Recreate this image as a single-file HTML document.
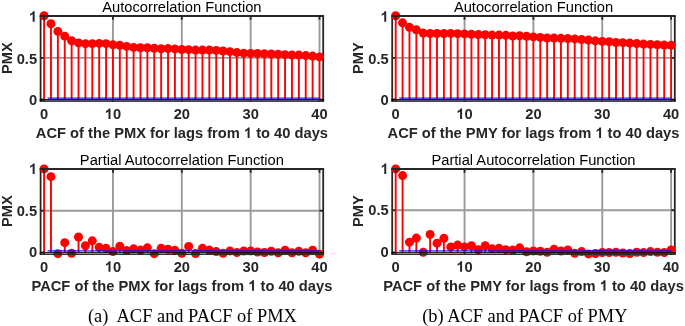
<!DOCTYPE html>
<html><head><meta charset="utf-8"><style>
html,body{margin:0;padding:0;background:#fff;}
body{width:685px;height:326px;overflow:hidden;position:relative;}
svg{position:absolute;left:0;top:0;will-change:transform;}
.b{font-family:"Liberation Sans",sans-serif;font-weight:bold;font-size:14.7px;fill:#262626;}
.r{font-family:"Liberation Sans",sans-serif;font-size:14.7px;fill:#000;}
.h{fill-opacity:0;}
.cap{font-family:"Liberation Serif",serif;font-size:18.4px;fill:#000;}
</style></head><body>
<svg width="685" height="326" viewBox="0 0 685 326">
<line x1="112.95" y1="15.9" x2="112.95" y2="44.77" stroke="#9a9a9a" stroke-width="1.9"/>
<line x1="181.8" y1="15.9" x2="181.8" y2="49.51" stroke="#9a9a9a" stroke-width="1.9"/>
<line x1="250.65" y1="15.9" x2="250.65" y2="53.41" stroke="#9a9a9a" stroke-width="1.9"/>
<line x1="319.5" y1="15.9" x2="319.5" y2="56.88" stroke="#9a9a9a" stroke-width="1.9"/>
<line x1="40.6" y1="57.9" x2="323.2" y2="57.9" stroke="#9a9a9a" stroke-width="1.9"/>
<line x1="40.6" y1="15.9" x2="40.6" y2="101.5" stroke="#262626" stroke-width="1.8"/>
<line x1="323.2" y1="15.9" x2="323.2" y2="101.5" stroke="#262626" stroke-width="1.8"/>
<line x1="40.6" y1="99.5" x2="44.3" y2="99.5" stroke="#262626" stroke-width="1.8"/>
<line x1="323.2" y1="99.5" x2="319.5" y2="99.5" stroke="#262626" stroke-width="1.8"/>
<line x1="40.6" y1="57.9" x2="44.3" y2="57.9" stroke="#262626" stroke-width="1.8"/>
<line x1="323.2" y1="57.9" x2="319.5" y2="57.9" stroke="#262626" stroke-width="1.8"/>
<line x1="40.6" y1="15.9" x2="44.3" y2="15.9" stroke="#262626" stroke-width="1.8"/>
<line x1="323.2" y1="15.9" x2="319.5" y2="15.9" stroke="#262626" stroke-width="1.8"/>
<line x1="44.1" y1="99.5" x2="44.1" y2="15.8" stroke="#ff0000" stroke-width="1.9"/>
<line x1="50.98" y1="99.5" x2="50.98" y2="23.76" stroke="#ff0000" stroke-width="1.9"/>
<line x1="57.87" y1="99.5" x2="57.87" y2="31.38" stroke="#ff0000" stroke-width="1.9"/>
<line x1="64.75" y1="99.5" x2="64.75" y2="36.13" stroke="#ff0000" stroke-width="1.9"/>
<line x1="71.64" y1="99.5" x2="71.64" y2="40.79" stroke="#ff0000" stroke-width="1.9"/>
<line x1="78.53" y1="99.5" x2="78.53" y2="42.9" stroke="#ff0000" stroke-width="1.9"/>
<line x1="85.41" y1="99.5" x2="85.41" y2="43.67" stroke="#ff0000" stroke-width="1.9"/>
<line x1="92.3" y1="99.5" x2="92.3" y2="43.67" stroke="#ff0000" stroke-width="1.9"/>
<line x1="99.18" y1="99.5" x2="99.18" y2="43.41" stroke="#ff0000" stroke-width="1.9"/>
<line x1="106.06" y1="99.5" x2="106.06" y2="43.67" stroke="#ff0000" stroke-width="1.9"/>
<line x1="112.95" y1="99.5" x2="112.95" y2="44.77" stroke="#ff0000" stroke-width="1.9"/>
<line x1="119.84" y1="99.5" x2="119.84" y2="45.36" stroke="#ff0000" stroke-width="1.9"/>
<line x1="126.72" y1="99.5" x2="126.72" y2="46.38" stroke="#ff0000" stroke-width="1.9"/>
<line x1="133.6" y1="99.5" x2="133.6" y2="47.39" stroke="#ff0000" stroke-width="1.9"/>
<line x1="140.49" y1="99.5" x2="140.49" y2="47.73" stroke="#ff0000" stroke-width="1.9"/>
<line x1="147.38" y1="99.5" x2="147.38" y2="47.73" stroke="#ff0000" stroke-width="1.9"/>
<line x1="154.26" y1="99.5" x2="154.26" y2="48.32" stroke="#ff0000" stroke-width="1.9"/>
<line x1="161.15" y1="99.5" x2="161.15" y2="48.75" stroke="#ff0000" stroke-width="1.9"/>
<line x1="168.03" y1="99.5" x2="168.03" y2="48.58" stroke="#ff0000" stroke-width="1.9"/>
<line x1="174.91" y1="99.5" x2="174.91" y2="48.92" stroke="#ff0000" stroke-width="1.9"/>
<line x1="181.8" y1="99.5" x2="181.8" y2="49.51" stroke="#ff0000" stroke-width="1.9"/>
<line x1="188.69" y1="99.5" x2="188.69" y2="49.68" stroke="#ff0000" stroke-width="1.9"/>
<line x1="195.57" y1="99.5" x2="195.57" y2="50.1" stroke="#ff0000" stroke-width="1.9"/>
<line x1="202.45" y1="99.5" x2="202.45" y2="50.1" stroke="#ff0000" stroke-width="1.9"/>
<line x1="209.34" y1="99.5" x2="209.34" y2="50.1" stroke="#ff0000" stroke-width="1.9"/>
<line x1="216.22" y1="99.5" x2="216.22" y2="50.44" stroke="#ff0000" stroke-width="1.9"/>
<line x1="223.11" y1="99.5" x2="223.11" y2="51.04" stroke="#ff0000" stroke-width="1.9"/>
<line x1="229.99" y1="99.5" x2="229.99" y2="51.63" stroke="#ff0000" stroke-width="1.9"/>
<line x1="236.88" y1="99.5" x2="236.88" y2="52.56" stroke="#ff0000" stroke-width="1.9"/>
<line x1="243.76" y1="99.5" x2="243.76" y2="53.15" stroke="#ff0000" stroke-width="1.9"/>
<line x1="250.65" y1="99.5" x2="250.65" y2="53.41" stroke="#ff0000" stroke-width="1.9"/>
<line x1="257.54" y1="99.5" x2="257.54" y2="53.49" stroke="#ff0000" stroke-width="1.9"/>
<line x1="264.42" y1="99.5" x2="264.42" y2="53.83" stroke="#ff0000" stroke-width="1.9"/>
<line x1="271.31" y1="99.5" x2="271.31" y2="54" stroke="#ff0000" stroke-width="1.9"/>
<line x1="278.19" y1="99.5" x2="278.19" y2="54.34" stroke="#ff0000" stroke-width="1.9"/>
<line x1="285.07" y1="99.5" x2="285.07" y2="54.68" stroke="#ff0000" stroke-width="1.9"/>
<line x1="291.96" y1="99.5" x2="291.96" y2="55.02" stroke="#ff0000" stroke-width="1.9"/>
<line x1="298.85" y1="99.5" x2="298.85" y2="55.1" stroke="#ff0000" stroke-width="1.9"/>
<line x1="305.73" y1="99.5" x2="305.73" y2="55.61" stroke="#ff0000" stroke-width="1.9"/>
<line x1="312.62" y1="99.5" x2="312.62" y2="56.12" stroke="#ff0000" stroke-width="1.9"/>
<line x1="319.5" y1="99.5" x2="319.5" y2="56.88" stroke="#ff0000" stroke-width="1.9"/>
<circle cx="44.1" cy="15.8" r="4.5" fill="#ff0000"/>
<circle cx="50.98" cy="23.76" r="4.5" fill="#ff0000"/>
<circle cx="57.87" cy="31.38" r="4.5" fill="#ff0000"/>
<circle cx="64.75" cy="36.13" r="4.5" fill="#ff0000"/>
<circle cx="71.64" cy="40.79" r="4.5" fill="#ff0000"/>
<circle cx="78.53" cy="42.9" r="4.5" fill="#ff0000"/>
<circle cx="85.41" cy="43.67" r="4.5" fill="#ff0000"/>
<circle cx="92.3" cy="43.67" r="4.5" fill="#ff0000"/>
<circle cx="99.18" cy="43.41" r="4.5" fill="#ff0000"/>
<circle cx="106.06" cy="43.67" r="4.5" fill="#ff0000"/>
<circle cx="112.95" cy="44.77" r="4.5" fill="#ff0000"/>
<circle cx="119.84" cy="45.36" r="4.5" fill="#ff0000"/>
<circle cx="126.72" cy="46.38" r="4.5" fill="#ff0000"/>
<circle cx="133.6" cy="47.39" r="4.5" fill="#ff0000"/>
<circle cx="140.49" cy="47.73" r="4.5" fill="#ff0000"/>
<circle cx="147.38" cy="47.73" r="4.5" fill="#ff0000"/>
<circle cx="154.26" cy="48.32" r="4.5" fill="#ff0000"/>
<circle cx="161.15" cy="48.75" r="4.5" fill="#ff0000"/>
<circle cx="168.03" cy="48.58" r="4.5" fill="#ff0000"/>
<circle cx="174.91" cy="48.92" r="4.5" fill="#ff0000"/>
<circle cx="181.8" cy="49.51" r="4.5" fill="#ff0000"/>
<circle cx="188.69" cy="49.68" r="4.5" fill="#ff0000"/>
<circle cx="195.57" cy="50.1" r="4.5" fill="#ff0000"/>
<circle cx="202.45" cy="50.1" r="4.5" fill="#ff0000"/>
<circle cx="209.34" cy="50.1" r="4.5" fill="#ff0000"/>
<circle cx="216.22" cy="50.44" r="4.5" fill="#ff0000"/>
<circle cx="223.11" cy="51.04" r="4.5" fill="#ff0000"/>
<circle cx="229.99" cy="51.63" r="4.5" fill="#ff0000"/>
<circle cx="236.88" cy="52.56" r="4.5" fill="#ff0000"/>
<circle cx="243.76" cy="53.15" r="4.5" fill="#ff0000"/>
<circle cx="250.65" cy="53.41" r="4.5" fill="#ff0000"/>
<circle cx="257.54" cy="53.49" r="4.5" fill="#ff0000"/>
<circle cx="264.42" cy="53.83" r="4.5" fill="#ff0000"/>
<circle cx="271.31" cy="54" r="4.5" fill="#ff0000"/>
<circle cx="278.19" cy="54.34" r="4.5" fill="#ff0000"/>
<circle cx="285.07" cy="54.68" r="4.5" fill="#ff0000"/>
<circle cx="291.96" cy="55.02" r="4.5" fill="#ff0000"/>
<circle cx="298.85" cy="55.1" r="4.5" fill="#ff0000"/>
<circle cx="305.73" cy="55.61" r="4.5" fill="#ff0000"/>
<circle cx="312.62" cy="56.12" r="4.5" fill="#ff0000"/>
<circle cx="319.5" cy="56.88" r="4.5" fill="#ff0000"/>
<line x1="47.54" y1="98.2" x2="319.5" y2="98.2" stroke="#0000ff" stroke-opacity="0.9" stroke-width="1.3"/>
<line x1="39.7" y1="15.9" x2="324.1" y2="15.9" stroke="#262626" stroke-width="2.0"/>
<line x1="39.7" y1="99.5" x2="324.1" y2="99.5" stroke="#000" stroke-opacity="0.88" stroke-width="1"/>
<line x1="39.7" y1="100.5" x2="324.1" y2="100.5" stroke="#000" stroke-opacity="0.68" stroke-width="1"/>
<line x1="39.7" y1="101.5" x2="324.1" y2="101.5" stroke="#262626" stroke-opacity="0.85" stroke-width="1"/>
<line x1="44.1" y1="101.5" x2="44.1" y2="98.6" stroke="#262626" stroke-width="1.8"/>
<line x1="44.1" y1="15.9" x2="44.1" y2="19.7" stroke="#262626" stroke-width="1.8"/>
<line x1="112.95" y1="101.5" x2="112.95" y2="98.6" stroke="#262626" stroke-width="1.8"/>
<line x1="112.95" y1="15.9" x2="112.95" y2="19.7" stroke="#262626" stroke-width="1.8"/>
<line x1="181.8" y1="101.5" x2="181.8" y2="98.6" stroke="#262626" stroke-width="1.8"/>
<line x1="181.8" y1="15.9" x2="181.8" y2="19.7" stroke="#262626" stroke-width="1.8"/>
<line x1="250.65" y1="101.5" x2="250.65" y2="98.6" stroke="#262626" stroke-width="1.8"/>
<line x1="250.65" y1="15.9" x2="250.65" y2="19.7" stroke="#262626" stroke-width="1.8"/>
<line x1="319.5" y1="101.5" x2="319.5" y2="98.6" stroke="#262626" stroke-width="1.8"/>
<line x1="319.5" y1="15.9" x2="319.5" y2="19.7" stroke="#262626" stroke-width="1.8"/>
<text x="44.1" y="119" text-anchor="middle" class="b">0</text>
<text id="t2" x="112.95" y="119" text-anchor="middle" class="b"><tspan class="h">1</tspan>0</text>
<path d="M795 0L520 0L520 1050C430 965 320 900 170 850L170 1110C250 1137 330 1180 405 1240C480 1300 535 1370 565 1466L795 1466Z" transform="translate(104.78,119) scale(0.007178,-0.007178)" fill="#262626"/>
<text x="181.8" y="119" text-anchor="middle" class="b">20</text>
<text x="250.65" y="119" text-anchor="middle" class="b">30</text>
<text x="319.5" y="119" text-anchor="middle" class="b">40</text>
<text x="37.1" y="105.4" text-anchor="end" class="b">0</text>
<text x="37.1" y="63.8" text-anchor="end" class="b">0.5</text>
<text id="t8" x="37.1" y="21.8" text-anchor="end" class="b"><tspan class="h">1</tspan></text>
<path d="M795 0L520 0L520 1050C430 965 320 900 170 850L170 1110C250 1137 330 1180 405 1240C480 1300 535 1370 565 1466L795 1466Z" transform="translate(28.93,21.8) scale(0.007178,-0.007178)" fill="#262626"/>
<text x="181.9" y="11.8" text-anchor="middle" class="r">Autocorrelation Function</text>
<text id="t10" x="181.9" y="137.9" text-anchor="middle" class="b">ACF of the PMX for lags from <tspan class="h">1</tspan> to 40 days</text>
<path d="M795 0L520 0L520 1050C430 965 320 900 170 850L170 1110C250 1137 330 1180 405 1240C480 1300 535 1370 565 1466L795 1466Z" transform="translate(243.89,137.9) scale(0.007178,-0.007178)" fill="#262626"/>
<text transform="translate(11.5,58.15) rotate(-90)" text-anchor="middle" class="b">PMX</text>
<line x1="112.95" y1="169" x2="112.95" y2="251.61" stroke="#9a9a9a" stroke-width="1.9"/>
<line x1="181.8" y1="169" x2="181.8" y2="253.3" stroke="#9a9a9a" stroke-width="1.9"/>
<line x1="250.65" y1="169" x2="250.65" y2="250.94" stroke="#9a9a9a" stroke-width="1.9"/>
<line x1="319.5" y1="169" x2="319.5" y2="254.14" stroke="#9a9a9a" stroke-width="1.9"/>
<line x1="40.6" y1="210.7" x2="323.2" y2="210.7" stroke="#9a9a9a" stroke-width="1.9"/>
<line x1="40.6" y1="169" x2="40.6" y2="254.5" stroke="#262626" stroke-width="1.8"/>
<line x1="323.2" y1="169" x2="323.2" y2="254.5" stroke="#262626" stroke-width="1.8"/>
<line x1="40.6" y1="252.5" x2="44.3" y2="252.5" stroke="#262626" stroke-width="1.8"/>
<line x1="323.2" y1="252.5" x2="319.5" y2="252.5" stroke="#262626" stroke-width="1.8"/>
<line x1="40.6" y1="210.7" x2="44.3" y2="210.7" stroke="#262626" stroke-width="1.8"/>
<line x1="323.2" y1="210.7" x2="319.5" y2="210.7" stroke="#262626" stroke-width="1.8"/>
<line x1="40.6" y1="169" x2="44.3" y2="169" stroke="#262626" stroke-width="1.8"/>
<line x1="323.2" y1="169" x2="319.5" y2="169" stroke="#262626" stroke-width="1.8"/>
<line x1="44.1" y1="252.5" x2="44.1" y2="168.9" stroke="#ff0000" stroke-width="1.9"/>
<line x1="50.98" y1="252.5" x2="50.98" y2="176.66" stroke="#ff0000" stroke-width="1.9"/>
<line x1="57.87" y1="252.5" x2="57.87" y2="253.64" stroke="#ff0000" stroke-width="1.9"/>
<line x1="64.75" y1="252.5" x2="64.75" y2="242.67" stroke="#ff0000" stroke-width="1.9"/>
<line x1="71.64" y1="252.5" x2="71.64" y2="253.3" stroke="#ff0000" stroke-width="1.9"/>
<line x1="78.53" y1="252.5" x2="78.53" y2="237.01" stroke="#ff0000" stroke-width="1.9"/>
<line x1="85.41" y1="252.5" x2="85.41" y2="245.79" stroke="#ff0000" stroke-width="1.9"/>
<line x1="92.3" y1="252.5" x2="92.3" y2="240.81" stroke="#ff0000" stroke-width="1.9"/>
<line x1="99.18" y1="252.5" x2="99.18" y2="247.22" stroke="#ff0000" stroke-width="1.9"/>
<line x1="106.06" y1="252.5" x2="106.06" y2="248.32" stroke="#ff0000" stroke-width="1.9"/>
<line x1="112.95" y1="252.5" x2="112.95" y2="251.61" stroke="#ff0000" stroke-width="1.9"/>
<line x1="119.84" y1="252.5" x2="119.84" y2="246.29" stroke="#ff0000" stroke-width="1.9"/>
<line x1="126.72" y1="252.5" x2="126.72" y2="250.6" stroke="#ff0000" stroke-width="1.9"/>
<line x1="133.6" y1="252.5" x2="133.6" y2="248.83" stroke="#ff0000" stroke-width="1.9"/>
<line x1="140.49" y1="252.5" x2="140.49" y2="250.09" stroke="#ff0000" stroke-width="1.9"/>
<line x1="147.38" y1="252.5" x2="147.38" y2="247.81" stroke="#ff0000" stroke-width="1.9"/>
<line x1="154.26" y1="252.5" x2="154.26" y2="253.64" stroke="#ff0000" stroke-width="1.9"/>
<line x1="161.15" y1="252.5" x2="161.15" y2="248.32" stroke="#ff0000" stroke-width="1.9"/>
<line x1="168.03" y1="252.5" x2="168.03" y2="249.25" stroke="#ff0000" stroke-width="1.9"/>
<line x1="174.91" y1="252.5" x2="174.91" y2="250.35" stroke="#ff0000" stroke-width="1.9"/>
<line x1="181.8" y1="252.5" x2="181.8" y2="253.3" stroke="#ff0000" stroke-width="1.9"/>
<line x1="188.69" y1="252.5" x2="188.69" y2="246.55" stroke="#ff0000" stroke-width="1.9"/>
<line x1="195.57" y1="252.5" x2="195.57" y2="253.55" stroke="#ff0000" stroke-width="1.9"/>
<line x1="202.45" y1="252.5" x2="202.45" y2="248.32" stroke="#ff0000" stroke-width="1.9"/>
<line x1="209.34" y1="252.5" x2="209.34" y2="250.09" stroke="#ff0000" stroke-width="1.9"/>
<line x1="216.22" y1="252.5" x2="216.22" y2="251.61" stroke="#ff0000" stroke-width="1.9"/>
<line x1="223.11" y1="252.5" x2="223.11" y2="253.3" stroke="#ff0000" stroke-width="1.9"/>
<line x1="229.99" y1="252.5" x2="229.99" y2="250.94" stroke="#ff0000" stroke-width="1.9"/>
<line x1="236.88" y1="252.5" x2="236.88" y2="252.46" stroke="#ff0000" stroke-width="1.9"/>
<line x1="243.76" y1="252.5" x2="243.76" y2="251.02" stroke="#ff0000" stroke-width="1.9"/>
<line x1="250.65" y1="252.5" x2="250.65" y2="250.94" stroke="#ff0000" stroke-width="1.9"/>
<line x1="257.54" y1="252.5" x2="257.54" y2="252.03" stroke="#ff0000" stroke-width="1.9"/>
<line x1="264.42" y1="252.5" x2="264.42" y2="252.46" stroke="#ff0000" stroke-width="1.9"/>
<line x1="271.31" y1="252.5" x2="271.31" y2="251.27" stroke="#ff0000" stroke-width="1.9"/>
<line x1="278.19" y1="252.5" x2="278.19" y2="252.71" stroke="#ff0000" stroke-width="1.9"/>
<line x1="285.07" y1="252.5" x2="285.07" y2="250.26" stroke="#ff0000" stroke-width="1.9"/>
<line x1="291.96" y1="252.5" x2="291.96" y2="252.71" stroke="#ff0000" stroke-width="1.9"/>
<line x1="298.85" y1="252.5" x2="298.85" y2="251.27" stroke="#ff0000" stroke-width="1.9"/>
<line x1="305.73" y1="252.5" x2="305.73" y2="252.71" stroke="#ff0000" stroke-width="1.9"/>
<line x1="312.62" y1="252.5" x2="312.62" y2="250.26" stroke="#ff0000" stroke-width="1.9"/>
<line x1="319.5" y1="252.5" x2="319.5" y2="254.14" stroke="#ff0000" stroke-width="1.9"/>
<circle cx="44.1" cy="168.9" r="4.5" fill="#ff0000"/>
<circle cx="50.98" cy="176.66" r="4.5" fill="#ff0000"/>
<circle cx="57.87" cy="253.64" r="4.5" fill="#ff0000"/>
<circle cx="64.75" cy="242.67" r="4.5" fill="#ff0000"/>
<circle cx="71.64" cy="253.3" r="4.5" fill="#ff0000"/>
<circle cx="78.53" cy="237.01" r="4.5" fill="#ff0000"/>
<circle cx="85.41" cy="245.79" r="4.5" fill="#ff0000"/>
<circle cx="92.3" cy="240.81" r="4.5" fill="#ff0000"/>
<circle cx="99.18" cy="247.22" r="4.5" fill="#ff0000"/>
<circle cx="106.06" cy="248.32" r="4.5" fill="#ff0000"/>
<circle cx="112.95" cy="251.61" r="4.5" fill="#ff0000"/>
<circle cx="119.84" cy="246.29" r="4.5" fill="#ff0000"/>
<circle cx="126.72" cy="250.6" r="4.5" fill="#ff0000"/>
<circle cx="133.6" cy="248.83" r="4.5" fill="#ff0000"/>
<circle cx="140.49" cy="250.09" r="4.5" fill="#ff0000"/>
<circle cx="147.38" cy="247.81" r="4.5" fill="#ff0000"/>
<circle cx="154.26" cy="253.64" r="4.5" fill="#ff0000"/>
<circle cx="161.15" cy="248.32" r="4.5" fill="#ff0000"/>
<circle cx="168.03" cy="249.25" r="4.5" fill="#ff0000"/>
<circle cx="174.91" cy="250.35" r="4.5" fill="#ff0000"/>
<circle cx="181.8" cy="253.3" r="4.5" fill="#ff0000"/>
<circle cx="188.69" cy="246.55" r="4.5" fill="#ff0000"/>
<circle cx="195.57" cy="253.55" r="4.5" fill="#ff0000"/>
<circle cx="202.45" cy="248.32" r="4.5" fill="#ff0000"/>
<circle cx="209.34" cy="250.09" r="4.5" fill="#ff0000"/>
<circle cx="216.22" cy="251.61" r="4.5" fill="#ff0000"/>
<circle cx="223.11" cy="253.3" r="4.5" fill="#ff0000"/>
<circle cx="229.99" cy="250.94" r="4.5" fill="#ff0000"/>
<circle cx="236.88" cy="252.46" r="4.5" fill="#ff0000"/>
<circle cx="243.76" cy="251.02" r="4.5" fill="#ff0000"/>
<circle cx="250.65" cy="250.94" r="4.5" fill="#ff0000"/>
<circle cx="257.54" cy="252.03" r="4.5" fill="#ff0000"/>
<circle cx="264.42" cy="252.46" r="4.5" fill="#ff0000"/>
<circle cx="271.31" cy="251.27" r="4.5" fill="#ff0000"/>
<circle cx="278.19" cy="252.71" r="4.5" fill="#ff0000"/>
<circle cx="285.07" cy="250.26" r="4.5" fill="#ff0000"/>
<circle cx="291.96" cy="252.71" r="4.5" fill="#ff0000"/>
<circle cx="298.85" cy="251.27" r="4.5" fill="#ff0000"/>
<circle cx="305.73" cy="252.71" r="4.5" fill="#ff0000"/>
<circle cx="312.62" cy="250.26" r="4.5" fill="#ff0000"/>
<circle cx="319.5" cy="254.14" r="4.5" fill="#ff0000"/>
<line x1="47.54" y1="250.8" x2="319.5" y2="250.8" stroke="#0000ff" stroke-opacity="0.9" stroke-width="1.3"/>
<line x1="39.7" y1="169" x2="324.1" y2="169" stroke="#262626" stroke-width="2.0"/>
<line x1="39.7" y1="252.5" x2="324.1" y2="252.5" stroke="#000" stroke-opacity="0.85" stroke-width="1"/>
<line x1="39.7" y1="253.5" x2="324.1" y2="253.5" stroke="#000" stroke-opacity="0.45" stroke-width="1"/>
<line x1="39.7" y1="254.5" x2="324.1" y2="254.5" stroke="#262626" stroke-opacity="0.95" stroke-width="1"/>
<line x1="44.1" y1="254.5" x2="44.1" y2="251.6" stroke="#262626" stroke-width="1.8"/>
<line x1="44.1" y1="169" x2="44.1" y2="172.8" stroke="#262626" stroke-width="1.8"/>
<line x1="112.95" y1="254.5" x2="112.95" y2="251.6" stroke="#262626" stroke-width="1.8"/>
<line x1="112.95" y1="169" x2="112.95" y2="172.8" stroke="#262626" stroke-width="1.8"/>
<line x1="181.8" y1="254.5" x2="181.8" y2="251.6" stroke="#262626" stroke-width="1.8"/>
<line x1="181.8" y1="169" x2="181.8" y2="172.8" stroke="#262626" stroke-width="1.8"/>
<line x1="250.65" y1="254.5" x2="250.65" y2="251.6" stroke="#262626" stroke-width="1.8"/>
<line x1="250.65" y1="169" x2="250.65" y2="172.8" stroke="#262626" stroke-width="1.8"/>
<line x1="319.5" y1="254.5" x2="319.5" y2="251.6" stroke="#262626" stroke-width="1.8"/>
<line x1="319.5" y1="169" x2="319.5" y2="172.8" stroke="#262626" stroke-width="1.8"/>
<text x="44.1" y="271.8" text-anchor="middle" class="b">0</text>
<text id="t12" x="112.95" y="271.8" text-anchor="middle" class="b"><tspan class="h">1</tspan>0</text>
<path d="M795 0L520 0L520 1050C430 965 320 900 170 850L170 1110C250 1137 330 1180 405 1240C480 1300 535 1370 565 1466L795 1466Z" transform="translate(104.78,271.8) scale(0.007178,-0.007178)" fill="#262626"/>
<text x="181.8" y="271.8" text-anchor="middle" class="b">20</text>
<text x="250.65" y="271.8" text-anchor="middle" class="b">30</text>
<text x="319.5" y="271.8" text-anchor="middle" class="b">40</text>
<text x="37.1" y="257.4" text-anchor="end" class="b">0</text>
<text x="37.1" y="215.6" text-anchor="end" class="b">0.5</text>
<text id="t18" x="37.1" y="173.9" text-anchor="end" class="b"><tspan class="h">1</tspan></text>
<path d="M795 0L520 0L520 1050C430 965 320 900 170 850L170 1110C250 1137 330 1180 405 1240C480 1300 535 1370 565 1466L795 1466Z" transform="translate(28.93,173.9) scale(0.007178,-0.007178)" fill="#262626"/>
<text x="181.9" y="164.9" text-anchor="middle" class="r">Partial Autocorrelation Function</text>
<text id="t20" x="181.9" y="290.7" text-anchor="middle" class="b">PACF of the PMX for lags from <tspan class="h">1</tspan> to 40 days</text>
<path d="M795 0L520 0L520 1050C430 965 320 900 170 850L170 1110C250 1137 330 1180 405 1240C480 1300 535 1370 565 1466L795 1466Z" transform="translate(248.25,290.7) scale(0.007178,-0.007178)" fill="#262626"/>
<text transform="translate(11.5,211.1) rotate(-90)" text-anchor="middle" class="b">PMX</text>
<line x1="464.55" y1="15.9" x2="464.55" y2="33.93" stroke="#9a9a9a" stroke-width="1.9"/>
<line x1="533.4" y1="15.9" x2="533.4" y2="36.89" stroke="#9a9a9a" stroke-width="1.9"/>
<line x1="602.25" y1="15.9" x2="602.25" y2="41.38" stroke="#9a9a9a" stroke-width="1.9"/>
<line x1="671.1" y1="15.9" x2="671.1" y2="45.36" stroke="#9a9a9a" stroke-width="1.9"/>
<line x1="392.2" y1="57.9" x2="674.8" y2="57.9" stroke="#9a9a9a" stroke-width="1.9"/>
<line x1="392.2" y1="15.9" x2="392.2" y2="101.5" stroke="#262626" stroke-width="1.8"/>
<line x1="674.8" y1="15.9" x2="674.8" y2="101.5" stroke="#262626" stroke-width="1.8"/>
<line x1="392.2" y1="99.5" x2="395.9" y2="99.5" stroke="#262626" stroke-width="1.8"/>
<line x1="674.8" y1="99.5" x2="671.1" y2="99.5" stroke="#262626" stroke-width="1.8"/>
<line x1="392.2" y1="57.9" x2="395.9" y2="57.9" stroke="#262626" stroke-width="1.8"/>
<line x1="674.8" y1="57.9" x2="671.1" y2="57.9" stroke="#262626" stroke-width="1.8"/>
<line x1="392.2" y1="15.9" x2="395.9" y2="15.9" stroke="#262626" stroke-width="1.8"/>
<line x1="674.8" y1="15.9" x2="671.1" y2="15.9" stroke="#262626" stroke-width="1.8"/>
<line x1="395.7" y1="99.5" x2="395.7" y2="15.8" stroke="#ff0000" stroke-width="1.9"/>
<line x1="402.59" y1="99.5" x2="402.59" y2="22.83" stroke="#ff0000" stroke-width="1.9"/>
<line x1="409.47" y1="99.5" x2="409.47" y2="27.32" stroke="#ff0000" stroke-width="1.9"/>
<line x1="416.36" y1="99.5" x2="416.36" y2="29.86" stroke="#ff0000" stroke-width="1.9"/>
<line x1="423.24" y1="99.5" x2="423.24" y2="33.08" stroke="#ff0000" stroke-width="1.9"/>
<line x1="430.13" y1="99.5" x2="430.13" y2="33.5" stroke="#ff0000" stroke-width="1.9"/>
<line x1="437.01" y1="99.5" x2="437.01" y2="33.5" stroke="#ff0000" stroke-width="1.9"/>
<line x1="443.9" y1="99.5" x2="443.9" y2="33.59" stroke="#ff0000" stroke-width="1.9"/>
<line x1="450.78" y1="99.5" x2="450.78" y2="33.42" stroke="#ff0000" stroke-width="1.9"/>
<line x1="457.67" y1="99.5" x2="457.67" y2="33.67" stroke="#ff0000" stroke-width="1.9"/>
<line x1="464.55" y1="99.5" x2="464.55" y2="33.93" stroke="#ff0000" stroke-width="1.9"/>
<line x1="471.44" y1="99.5" x2="471.44" y2="34.26" stroke="#ff0000" stroke-width="1.9"/>
<line x1="478.32" y1="99.5" x2="478.32" y2="34.6" stroke="#ff0000" stroke-width="1.9"/>
<line x1="485.21" y1="99.5" x2="485.21" y2="34.77" stroke="#ff0000" stroke-width="1.9"/>
<line x1="492.09" y1="99.5" x2="492.09" y2="35.11" stroke="#ff0000" stroke-width="1.9"/>
<line x1="498.98" y1="99.5" x2="498.98" y2="35.11" stroke="#ff0000" stroke-width="1.9"/>
<line x1="505.86" y1="99.5" x2="505.86" y2="35.37" stroke="#ff0000" stroke-width="1.9"/>
<line x1="512.75" y1="99.5" x2="512.75" y2="35.96" stroke="#ff0000" stroke-width="1.9"/>
<line x1="519.63" y1="99.5" x2="519.63" y2="35.79" stroke="#ff0000" stroke-width="1.9"/>
<line x1="526.52" y1="99.5" x2="526.52" y2="36.21" stroke="#ff0000" stroke-width="1.9"/>
<line x1="533.4" y1="99.5" x2="533.4" y2="36.89" stroke="#ff0000" stroke-width="1.9"/>
<line x1="540.29" y1="99.5" x2="540.29" y2="37.4" stroke="#ff0000" stroke-width="1.9"/>
<line x1="547.17" y1="99.5" x2="547.17" y2="37.99" stroke="#ff0000" stroke-width="1.9"/>
<line x1="554.06" y1="99.5" x2="554.06" y2="38.08" stroke="#ff0000" stroke-width="1.9"/>
<line x1="560.94" y1="99.5" x2="560.94" y2="38.33" stroke="#ff0000" stroke-width="1.9"/>
<line x1="567.83" y1="99.5" x2="567.83" y2="38.58" stroke="#ff0000" stroke-width="1.9"/>
<line x1="574.71" y1="99.5" x2="574.71" y2="38.92" stroke="#ff0000" stroke-width="1.9"/>
<line x1="581.6" y1="99.5" x2="581.6" y2="39.52" stroke="#ff0000" stroke-width="1.9"/>
<line x1="588.48" y1="99.5" x2="588.48" y2="40.11" stroke="#ff0000" stroke-width="1.9"/>
<line x1="595.37" y1="99.5" x2="595.37" y2="40.87" stroke="#ff0000" stroke-width="1.9"/>
<line x1="602.25" y1="99.5" x2="602.25" y2="41.38" stroke="#ff0000" stroke-width="1.9"/>
<line x1="609.13" y1="99.5" x2="609.13" y2="41.8" stroke="#ff0000" stroke-width="1.9"/>
<line x1="616.02" y1="99.5" x2="616.02" y2="42.48" stroke="#ff0000" stroke-width="1.9"/>
<line x1="622.9" y1="99.5" x2="622.9" y2="42.65" stroke="#ff0000" stroke-width="1.9"/>
<line x1="629.79" y1="99.5" x2="629.79" y2="43.07" stroke="#ff0000" stroke-width="1.9"/>
<line x1="636.68" y1="99.5" x2="636.68" y2="43.5" stroke="#ff0000" stroke-width="1.9"/>
<line x1="643.56" y1="99.5" x2="643.56" y2="44.09" stroke="#ff0000" stroke-width="1.9"/>
<line x1="650.45" y1="99.5" x2="650.45" y2="44.43" stroke="#ff0000" stroke-width="1.9"/>
<line x1="657.33" y1="99.5" x2="657.33" y2="44.77" stroke="#ff0000" stroke-width="1.9"/>
<line x1="664.22" y1="99.5" x2="664.22" y2="45.11" stroke="#ff0000" stroke-width="1.9"/>
<line x1="671.1" y1="99.5" x2="671.1" y2="45.36" stroke="#ff0000" stroke-width="1.9"/>
<circle cx="395.7" cy="15.8" r="4.5" fill="#ff0000"/>
<circle cx="402.59" cy="22.83" r="4.5" fill="#ff0000"/>
<circle cx="409.47" cy="27.32" r="4.5" fill="#ff0000"/>
<circle cx="416.36" cy="29.86" r="4.5" fill="#ff0000"/>
<circle cx="423.24" cy="33.08" r="4.5" fill="#ff0000"/>
<circle cx="430.13" cy="33.5" r="4.5" fill="#ff0000"/>
<circle cx="437.01" cy="33.5" r="4.5" fill="#ff0000"/>
<circle cx="443.9" cy="33.59" r="4.5" fill="#ff0000"/>
<circle cx="450.78" cy="33.42" r="4.5" fill="#ff0000"/>
<circle cx="457.67" cy="33.67" r="4.5" fill="#ff0000"/>
<circle cx="464.55" cy="33.93" r="4.5" fill="#ff0000"/>
<circle cx="471.44" cy="34.26" r="4.5" fill="#ff0000"/>
<circle cx="478.32" cy="34.6" r="4.5" fill="#ff0000"/>
<circle cx="485.21" cy="34.77" r="4.5" fill="#ff0000"/>
<circle cx="492.09" cy="35.11" r="4.5" fill="#ff0000"/>
<circle cx="498.98" cy="35.11" r="4.5" fill="#ff0000"/>
<circle cx="505.86" cy="35.37" r="4.5" fill="#ff0000"/>
<circle cx="512.75" cy="35.96" r="4.5" fill="#ff0000"/>
<circle cx="519.63" cy="35.79" r="4.5" fill="#ff0000"/>
<circle cx="526.52" cy="36.21" r="4.5" fill="#ff0000"/>
<circle cx="533.4" cy="36.89" r="4.5" fill="#ff0000"/>
<circle cx="540.29" cy="37.4" r="4.5" fill="#ff0000"/>
<circle cx="547.17" cy="37.99" r="4.5" fill="#ff0000"/>
<circle cx="554.06" cy="38.08" r="4.5" fill="#ff0000"/>
<circle cx="560.94" cy="38.33" r="4.5" fill="#ff0000"/>
<circle cx="567.83" cy="38.58" r="4.5" fill="#ff0000"/>
<circle cx="574.71" cy="38.92" r="4.5" fill="#ff0000"/>
<circle cx="581.6" cy="39.52" r="4.5" fill="#ff0000"/>
<circle cx="588.48" cy="40.11" r="4.5" fill="#ff0000"/>
<circle cx="595.37" cy="40.87" r="4.5" fill="#ff0000"/>
<circle cx="602.25" cy="41.38" r="4.5" fill="#ff0000"/>
<circle cx="609.13" cy="41.8" r="4.5" fill="#ff0000"/>
<circle cx="616.02" cy="42.48" r="4.5" fill="#ff0000"/>
<circle cx="622.9" cy="42.65" r="4.5" fill="#ff0000"/>
<circle cx="629.79" cy="43.07" r="4.5" fill="#ff0000"/>
<circle cx="636.68" cy="43.5" r="4.5" fill="#ff0000"/>
<circle cx="643.56" cy="44.09" r="4.5" fill="#ff0000"/>
<circle cx="650.45" cy="44.43" r="4.5" fill="#ff0000"/>
<circle cx="657.33" cy="44.77" r="4.5" fill="#ff0000"/>
<circle cx="664.22" cy="45.11" r="4.5" fill="#ff0000"/>
<circle cx="671.1" cy="45.36" r="4.5" fill="#ff0000"/>
<line x1="399.14" y1="98.2" x2="671.1" y2="98.2" stroke="#0000ff" stroke-opacity="0.9" stroke-width="1.3"/>
<line x1="391.3" y1="15.9" x2="675.7" y2="15.9" stroke="#262626" stroke-width="2.0"/>
<line x1="391.3" y1="99.5" x2="675.7" y2="99.5" stroke="#000" stroke-opacity="0.88" stroke-width="1"/>
<line x1="391.3" y1="100.5" x2="675.7" y2="100.5" stroke="#000" stroke-opacity="0.68" stroke-width="1"/>
<line x1="391.3" y1="101.5" x2="675.7" y2="101.5" stroke="#262626" stroke-opacity="0.85" stroke-width="1"/>
<line x1="395.7" y1="101.5" x2="395.7" y2="98.6" stroke="#262626" stroke-width="1.8"/>
<line x1="395.7" y1="15.9" x2="395.7" y2="19.7" stroke="#262626" stroke-width="1.8"/>
<line x1="464.55" y1="101.5" x2="464.55" y2="98.6" stroke="#262626" stroke-width="1.8"/>
<line x1="464.55" y1="15.9" x2="464.55" y2="19.7" stroke="#262626" stroke-width="1.8"/>
<line x1="533.4" y1="101.5" x2="533.4" y2="98.6" stroke="#262626" stroke-width="1.8"/>
<line x1="533.4" y1="15.9" x2="533.4" y2="19.7" stroke="#262626" stroke-width="1.8"/>
<line x1="602.25" y1="101.5" x2="602.25" y2="98.6" stroke="#262626" stroke-width="1.8"/>
<line x1="602.25" y1="15.9" x2="602.25" y2="19.7" stroke="#262626" stroke-width="1.8"/>
<line x1="671.1" y1="101.5" x2="671.1" y2="98.6" stroke="#262626" stroke-width="1.8"/>
<line x1="671.1" y1="15.9" x2="671.1" y2="19.7" stroke="#262626" stroke-width="1.8"/>
<text x="395.7" y="119" text-anchor="middle" class="b">0</text>
<text id="t22" x="464.55" y="119" text-anchor="middle" class="b"><tspan class="h">1</tspan>0</text>
<path d="M795 0L520 0L520 1050C430 965 320 900 170 850L170 1110C250 1137 330 1180 405 1240C480 1300 535 1370 565 1466L795 1466Z" transform="translate(456.38,119) scale(0.007178,-0.007178)" fill="#262626"/>
<text x="533.4" y="119" text-anchor="middle" class="b">20</text>
<text x="602.25" y="119" text-anchor="middle" class="b">30</text>
<text x="671.1" y="119" text-anchor="middle" class="b">40</text>
<text x="388.7" y="105.4" text-anchor="end" class="b">0</text>
<text x="388.7" y="63.8" text-anchor="end" class="b">0.5</text>
<text id="t28" x="388.7" y="21.8" text-anchor="end" class="b"><tspan class="h">1</tspan></text>
<path d="M795 0L520 0L520 1050C430 965 320 900 170 850L170 1110C250 1137 330 1180 405 1240C480 1300 535 1370 565 1466L795 1466Z" transform="translate(380.53,21.8) scale(0.007178,-0.007178)" fill="#262626"/>
<text x="533.5" y="11.8" text-anchor="middle" class="r">Autocorrelation Function</text>
<text id="t30" x="533.5" y="137.9" text-anchor="middle" class="b">ACF of the PMY for lags from <tspan class="h">1</tspan> to 40 days</text>
<path d="M795 0L520 0L520 1050C430 965 320 900 170 850L170 1110C250 1137 330 1180 405 1240C480 1300 535 1370 565 1466L795 1466Z" transform="translate(595.36,137.9) scale(0.007178,-0.007178)" fill="#262626"/>
<text transform="translate(363.1,58.15) rotate(-90)" text-anchor="middle" class="b">PMY</text>
<line x1="464.55" y1="169" x2="464.55" y2="246.89" stroke="#9a9a9a" stroke-width="1.9"/>
<line x1="533.4" y1="169" x2="533.4" y2="250.94" stroke="#9a9a9a" stroke-width="1.9"/>
<line x1="602.25" y1="169" x2="602.25" y2="252.46" stroke="#9a9a9a" stroke-width="1.9"/>
<line x1="671.1" y1="169" x2="671.1" y2="249.92" stroke="#9a9a9a" stroke-width="1.9"/>
<line x1="392.2" y1="210.2" x2="674.8" y2="210.2" stroke="#9a9a9a" stroke-width="1.9"/>
<line x1="392.2" y1="169" x2="392.2" y2="254.5" stroke="#262626" stroke-width="1.8"/>
<line x1="674.8" y1="169" x2="674.8" y2="254.5" stroke="#262626" stroke-width="1.8"/>
<line x1="392.2" y1="252.5" x2="395.9" y2="252.5" stroke="#262626" stroke-width="1.8"/>
<line x1="674.8" y1="252.5" x2="671.1" y2="252.5" stroke="#262626" stroke-width="1.8"/>
<line x1="392.2" y1="210.2" x2="395.9" y2="210.2" stroke="#262626" stroke-width="1.8"/>
<line x1="674.8" y1="210.2" x2="671.1" y2="210.2" stroke="#262626" stroke-width="1.8"/>
<line x1="392.2" y1="169" x2="395.9" y2="169" stroke="#262626" stroke-width="1.8"/>
<line x1="674.8" y1="169" x2="671.1" y2="169" stroke="#262626" stroke-width="1.8"/>
<line x1="395.7" y1="252.5" x2="395.7" y2="168.9" stroke="#ff0000" stroke-width="1.9"/>
<line x1="402.59" y1="252.5" x2="402.59" y2="175.57" stroke="#ff0000" stroke-width="1.9"/>
<line x1="409.47" y1="252.5" x2="409.47" y2="242.16" stroke="#ff0000" stroke-width="1.9"/>
<line x1="416.36" y1="252.5" x2="416.36" y2="238.11" stroke="#ff0000" stroke-width="1.9"/>
<line x1="423.24" y1="252.5" x2="423.24" y2="252.29" stroke="#ff0000" stroke-width="1.9"/>
<line x1="430.13" y1="252.5" x2="430.13" y2="234.39" stroke="#ff0000" stroke-width="1.9"/>
<line x1="437.01" y1="252.5" x2="437.01" y2="243.17" stroke="#ff0000" stroke-width="1.9"/>
<line x1="443.9" y1="252.5" x2="443.9" y2="238.36" stroke="#ff0000" stroke-width="1.9"/>
<line x1="450.78" y1="252.5" x2="450.78" y2="246.89" stroke="#ff0000" stroke-width="1.9"/>
<line x1="457.67" y1="252.5" x2="457.67" y2="245.11" stroke="#ff0000" stroke-width="1.9"/>
<line x1="464.55" y1="252.5" x2="464.55" y2="246.89" stroke="#ff0000" stroke-width="1.9"/>
<line x1="471.44" y1="252.5" x2="471.44" y2="245.7" stroke="#ff0000" stroke-width="1.9"/>
<line x1="478.32" y1="252.5" x2="478.32" y2="249.67" stroke="#ff0000" stroke-width="1.9"/>
<line x1="485.21" y1="252.5" x2="485.21" y2="245.7" stroke="#ff0000" stroke-width="1.9"/>
<line x1="492.09" y1="252.5" x2="492.09" y2="248.83" stroke="#ff0000" stroke-width="1.9"/>
<line x1="498.98" y1="252.5" x2="498.98" y2="248.32" stroke="#ff0000" stroke-width="1.9"/>
<line x1="505.86" y1="252.5" x2="505.86" y2="249.67" stroke="#ff0000" stroke-width="1.9"/>
<line x1="512.75" y1="252.5" x2="512.75" y2="250.09" stroke="#ff0000" stroke-width="1.9"/>
<line x1="519.63" y1="252.5" x2="519.63" y2="247.81" stroke="#ff0000" stroke-width="1.9"/>
<line x1="526.52" y1="252.5" x2="526.52" y2="251.78" stroke="#ff0000" stroke-width="1.9"/>
<line x1="533.4" y1="252.5" x2="533.4" y2="250.94" stroke="#ff0000" stroke-width="1.9"/>
<line x1="540.29" y1="252.5" x2="540.29" y2="251.27" stroke="#ff0000" stroke-width="1.9"/>
<line x1="547.17" y1="252.5" x2="547.17" y2="252.29" stroke="#ff0000" stroke-width="1.9"/>
<line x1="554.06" y1="252.5" x2="554.06" y2="249.25" stroke="#ff0000" stroke-width="1.9"/>
<line x1="560.94" y1="252.5" x2="560.94" y2="251.02" stroke="#ff0000" stroke-width="1.9"/>
<line x1="567.83" y1="252.5" x2="567.83" y2="249.92" stroke="#ff0000" stroke-width="1.9"/>
<line x1="574.71" y1="252.5" x2="574.71" y2="253.3" stroke="#ff0000" stroke-width="1.9"/>
<line x1="581.6" y1="252.5" x2="581.6" y2="251.61" stroke="#ff0000" stroke-width="1.9"/>
<line x1="588.48" y1="252.5" x2="588.48" y2="253.89" stroke="#ff0000" stroke-width="1.9"/>
<line x1="595.37" y1="252.5" x2="595.37" y2="253.55" stroke="#ff0000" stroke-width="1.9"/>
<line x1="602.25" y1="252.5" x2="602.25" y2="252.46" stroke="#ff0000" stroke-width="1.9"/>
<line x1="609.13" y1="252.5" x2="609.13" y2="252.54" stroke="#ff0000" stroke-width="1.9"/>
<line x1="616.02" y1="252.5" x2="616.02" y2="252.29" stroke="#ff0000" stroke-width="1.9"/>
<line x1="622.9" y1="252.5" x2="622.9" y2="253.05" stroke="#ff0000" stroke-width="1.9"/>
<line x1="629.79" y1="252.5" x2="629.79" y2="253.55" stroke="#ff0000" stroke-width="1.9"/>
<line x1="636.68" y1="252.5" x2="636.68" y2="252.29" stroke="#ff0000" stroke-width="1.9"/>
<line x1="643.56" y1="252.5" x2="643.56" y2="252.62" stroke="#ff0000" stroke-width="1.9"/>
<line x1="650.45" y1="252.5" x2="650.45" y2="251.61" stroke="#ff0000" stroke-width="1.9"/>
<line x1="657.33" y1="252.5" x2="657.33" y2="252.29" stroke="#ff0000" stroke-width="1.9"/>
<line x1="664.22" y1="252.5" x2="664.22" y2="252.46" stroke="#ff0000" stroke-width="1.9"/>
<line x1="671.1" y1="252.5" x2="671.1" y2="249.92" stroke="#ff0000" stroke-width="1.9"/>
<circle cx="395.7" cy="168.9" r="4.5" fill="#ff0000"/>
<circle cx="402.59" cy="175.57" r="4.5" fill="#ff0000"/>
<circle cx="409.47" cy="242.16" r="4.5" fill="#ff0000"/>
<circle cx="416.36" cy="238.11" r="4.5" fill="#ff0000"/>
<circle cx="423.24" cy="252.29" r="4.5" fill="#ff0000"/>
<circle cx="430.13" cy="234.39" r="4.5" fill="#ff0000"/>
<circle cx="437.01" cy="243.17" r="4.5" fill="#ff0000"/>
<circle cx="443.9" cy="238.36" r="4.5" fill="#ff0000"/>
<circle cx="450.78" cy="246.89" r="4.5" fill="#ff0000"/>
<circle cx="457.67" cy="245.11" r="4.5" fill="#ff0000"/>
<circle cx="464.55" cy="246.89" r="4.5" fill="#ff0000"/>
<circle cx="471.44" cy="245.7" r="4.5" fill="#ff0000"/>
<circle cx="478.32" cy="249.67" r="4.5" fill="#ff0000"/>
<circle cx="485.21" cy="245.7" r="4.5" fill="#ff0000"/>
<circle cx="492.09" cy="248.83" r="4.5" fill="#ff0000"/>
<circle cx="498.98" cy="248.32" r="4.5" fill="#ff0000"/>
<circle cx="505.86" cy="249.67" r="4.5" fill="#ff0000"/>
<circle cx="512.75" cy="250.09" r="4.5" fill="#ff0000"/>
<circle cx="519.63" cy="247.81" r="4.5" fill="#ff0000"/>
<circle cx="526.52" cy="251.78" r="4.5" fill="#ff0000"/>
<circle cx="533.4" cy="250.94" r="4.5" fill="#ff0000"/>
<circle cx="540.29" cy="251.27" r="4.5" fill="#ff0000"/>
<circle cx="547.17" cy="252.29" r="4.5" fill="#ff0000"/>
<circle cx="554.06" cy="249.25" r="4.5" fill="#ff0000"/>
<circle cx="560.94" cy="251.02" r="4.5" fill="#ff0000"/>
<circle cx="567.83" cy="249.92" r="4.5" fill="#ff0000"/>
<circle cx="574.71" cy="253.3" r="4.5" fill="#ff0000"/>
<circle cx="581.6" cy="251.61" r="4.5" fill="#ff0000"/>
<circle cx="588.48" cy="253.89" r="4.5" fill="#ff0000"/>
<circle cx="595.37" cy="253.55" r="4.5" fill="#ff0000"/>
<circle cx="602.25" cy="252.46" r="4.5" fill="#ff0000"/>
<circle cx="609.13" cy="252.54" r="4.5" fill="#ff0000"/>
<circle cx="616.02" cy="252.29" r="4.5" fill="#ff0000"/>
<circle cx="622.9" cy="253.05" r="4.5" fill="#ff0000"/>
<circle cx="629.79" cy="253.55" r="4.5" fill="#ff0000"/>
<circle cx="636.68" cy="252.29" r="4.5" fill="#ff0000"/>
<circle cx="643.56" cy="252.62" r="4.5" fill="#ff0000"/>
<circle cx="650.45" cy="251.61" r="4.5" fill="#ff0000"/>
<circle cx="657.33" cy="252.29" r="4.5" fill="#ff0000"/>
<circle cx="664.22" cy="252.46" r="4.5" fill="#ff0000"/>
<circle cx="671.1" cy="249.92" r="4.5" fill="#ff0000"/>
<line x1="399.14" y1="250.8" x2="671.1" y2="250.8" stroke="#0000ff" stroke-opacity="0.9" stroke-width="1.3"/>
<line x1="391.3" y1="169" x2="675.7" y2="169" stroke="#262626" stroke-width="2.0"/>
<line x1="391.3" y1="252.5" x2="675.7" y2="252.5" stroke="#000" stroke-opacity="0.85" stroke-width="1"/>
<line x1="391.3" y1="253.5" x2="675.7" y2="253.5" stroke="#000" stroke-opacity="0.45" stroke-width="1"/>
<line x1="391.3" y1="254.5" x2="675.7" y2="254.5" stroke="#262626" stroke-opacity="0.95" stroke-width="1"/>
<line x1="395.7" y1="254.5" x2="395.7" y2="251.6" stroke="#262626" stroke-width="1.8"/>
<line x1="395.7" y1="169" x2="395.7" y2="172.8" stroke="#262626" stroke-width="1.8"/>
<line x1="464.55" y1="254.5" x2="464.55" y2="251.6" stroke="#262626" stroke-width="1.8"/>
<line x1="464.55" y1="169" x2="464.55" y2="172.8" stroke="#262626" stroke-width="1.8"/>
<line x1="533.4" y1="254.5" x2="533.4" y2="251.6" stroke="#262626" stroke-width="1.8"/>
<line x1="533.4" y1="169" x2="533.4" y2="172.8" stroke="#262626" stroke-width="1.8"/>
<line x1="602.25" y1="254.5" x2="602.25" y2="251.6" stroke="#262626" stroke-width="1.8"/>
<line x1="602.25" y1="169" x2="602.25" y2="172.8" stroke="#262626" stroke-width="1.8"/>
<line x1="671.1" y1="254.5" x2="671.1" y2="251.6" stroke="#262626" stroke-width="1.8"/>
<line x1="671.1" y1="169" x2="671.1" y2="172.8" stroke="#262626" stroke-width="1.8"/>
<text x="395.7" y="271.8" text-anchor="middle" class="b">0</text>
<text id="t32" x="464.55" y="271.8" text-anchor="middle" class="b"><tspan class="h">1</tspan>0</text>
<path d="M795 0L520 0L520 1050C430 965 320 900 170 850L170 1110C250 1137 330 1180 405 1240C480 1300 535 1370 565 1466L795 1466Z" transform="translate(456.38,271.8) scale(0.007178,-0.007178)" fill="#262626"/>
<text x="533.4" y="271.8" text-anchor="middle" class="b">20</text>
<text x="602.25" y="271.8" text-anchor="middle" class="b">30</text>
<text x="671.1" y="271.8" text-anchor="middle" class="b">40</text>
<text x="388.7" y="257.4" text-anchor="end" class="b">0</text>
<text x="388.7" y="215.1" text-anchor="end" class="b">0.5</text>
<text id="t38" x="388.7" y="173.9" text-anchor="end" class="b"><tspan class="h">1</tspan></text>
<path d="M795 0L520 0L520 1050C430 965 320 900 170 850L170 1110C250 1137 330 1180 405 1240C480 1300 535 1370 565 1466L795 1466Z" transform="translate(380.53,173.9) scale(0.007178,-0.007178)" fill="#262626"/>
<text x="533.5" y="164.9" text-anchor="middle" class="r">Partial Autocorrelation Function</text>
<text id="t40" x="533.5" y="290.7" text-anchor="middle" class="b">PACF of the PMY for lags from <tspan class="h">1</tspan> to 40 days</text>
<path d="M795 0L520 0L520 1050C430 965 320 900 170 850L170 1110C250 1137 330 1180 405 1240C480 1300 535 1370 565 1466L795 1466Z" transform="translate(599.72,290.7) scale(0.007178,-0.007178)" fill="#262626"/>
<text transform="translate(363.1,211.1) rotate(-90)" text-anchor="middle" class="b">PMY</text>
<text x="88" y="321.5" class="cap" xml:space="preserve">(a)  ACF and PACF of PMX</text>
<text x="422.2" y="321.5" class="cap">(b) ACF and PACF of PMY</text>
</svg>
</body></html>
